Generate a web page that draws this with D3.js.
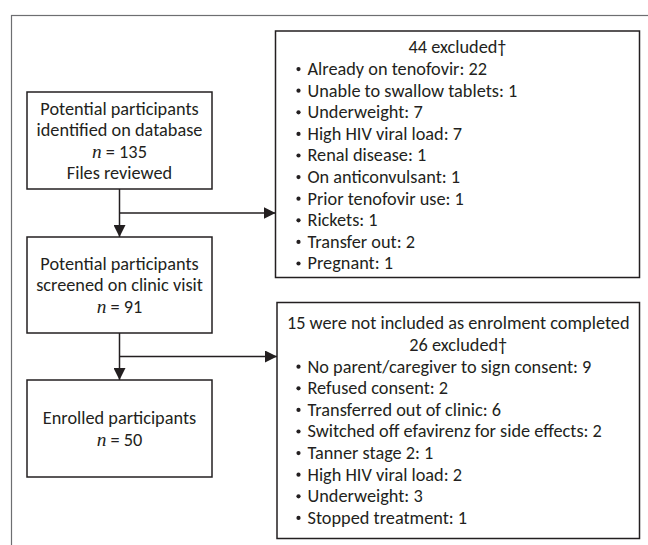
<!DOCTYPE html>
<html>
<head>
<meta charset="utf-8">
<script src="https://cdn.jsdelivr.net/npm/d3@7"></script>
<style>
  body { margin: 0; background: #fff; }
  text { font-family: Carlito, Lato, sans-serif; fill: #231f20; }
</style>
</head>
<body>
<div id="viz"></div>
<script>
const width = 648;
const height = 545;
const lineH = 21.6; // space between text lines
const fontSize = 18.3;
const ink = '#231f20';

// Data: the main flow and the exclusion lists
const flowLabels = [
  ['Potential participants', 'identified on database', 'n|135', 'Files reviewed'],
  ['Potential participants', 'screened on clinic visit', 'n|91'],
  ['Enrolled participants', 'n|50']
];
const exclTitles1 = ['44 excluded†'];
const exclItems1 = [
  'Already on tenofovir: 22',
  'Unable to swallow tablets: 1',
  'Underweight: 7',
  'High HIV viral load: 7',
  'Renal disease: 1',
  'On anticonvulsant: 1',
  'Prior tenofovir use: 1',
  'Rickets: 1',
  'Transfer out: 2',
  'Pregnant: 1'
];
const exclTitles2 = ['15 were not included as enrolment completed', '26 excluded†'];
const exclItems2 = [
  'No parent/caregiver to sign consent: 9',
  'Refused consent: 2',
  'Transferred out of clinic: 6',
  'Switched off efavirenz for side effects: 2',
  'Tanner stage 2: 1',
  'High HIV viral load: 2',
  'Underweight: 3',
  'Stopped treatment: 1'
];

// Layout of the boxes
const flowBoxes = [
  {x: 27, y: 92, w: 185, h: 97},
  {x: 27, y: 237, w: 185, h: 96},
  {x: 27, y: 380, w: 185, h: 97}
];
const sideBoxes = [
  {x: 275.5, y: 31, w: 364, h: 246.5, titles: exclTitles1, items: exclItems1, top: 47},
  {x: 277, y: 302.5, w: 362.5, h: 236, titles: exclTitles2, items: exclItems2, top: 323}
];

const svg = d3.select('#viz')
  .append('svg')
    .attr('width', width)
    .attr('height', height);

svg.append('defs').append('marker')
    .attr('id', 'head')
    .attr('viewBox', '0 0 12 12')
    .attr('refX', 12)
    .attr('refY', 6)
    .attr('markerWidth', 12)
    .attr('markerHeight', 12)
    .attr('markerUnits', 'userSpaceOnUse')
    .attr('orient', 'auto')
  .append('path')
    .attr('d', 'M0,0L12,6L0,12Z')
    .attr('fill', ink);

// outer frame (runs off the right and bottom edges)
svg.append('rect')
  .attr('x', 11.5).attr('y', 15.5)
  .attr('width', 660).attr('height', 560)
  .attr('fill', 'none')
  .attr('stroke', '#6d6e71')
  .attr('stroke-width', 1.2);

// connectors
const cx = flowBoxes[0].x + flowBoxes[0].w / 2;
const links = [
  {from: flowBoxes[0], to: flowBoxes[1], side: sideBoxes[0], jy: 213},
  {from: flowBoxes[1], to: flowBoxes[2], side: sideBoxes[1], jy: 356.5}
];
links.forEach(l => {
  svg.append('line')
    .attr('x1', cx).attr('y1', l.from.y + l.from.h)
    .attr('x2', cx).attr('y2', l.to.y)
    .attr('stroke', ink).attr('stroke-width', 1.5)
    .attr('marker-end', 'url(#head)');
  svg.append('line')
    .attr('x1', cx).attr('y1', l.jy)
    .attr('x2', l.side.x).attr('y2', l.jy)
    .attr('stroke', ink).attr('stroke-width', 1.5)
    .attr('marker-end', 'url(#head)');
});

// flow boxes
const fb = svg.selectAll('g.flow').data(flowBoxes).join('g').attr('class', 'flow');
fb.append('rect')
  .attr('x', d => d.x).attr('y', d => d.y)
  .attr('width', d => d.w).attr('height', d => d.h)
  .attr('fill', '#fff').attr('stroke', ink).attr('stroke-width', 1.5);
fb.each(function(d, i) {
  const lines = flowLabels[i];
  const y0 = d.y + d.h / 2 - (lines.length - 1) * lineH / 2;
  const t = d3.select(this).selectAll('text').data(lines).join('text')
    .attr('x', d.x + d.w / 2)
    .attr('y', (s, j) => y0 + j * lineH)
    .attr('dy', '0.35em')
    .attr('text-anchor', 'middle')
    .attr('font-size', fontSize);
  t.each(function(s) {
    const el = d3.select(this);
    if (s.startsWith('n|')) {
      el.append('tspan').text('n')
        .style('font-family', '"Liberation Serif", serif')
        .style('font-style', 'italic')
        .attr('font-size', fontSize + 1);
      el.append('tspan').text(' = ' + s.slice(2));
    } else {
      el.text(s);
    }
  });
});

// exclusion boxes
sideBoxes.forEach(b => {
  const g = svg.append('g');
  g.append('rect')
    .attr('x', b.x).attr('y', b.y)
    .attr('width', b.w).attr('height', b.h)
    .attr('fill', '#fff').attr('stroke', ink).attr('stroke-width', 1.5);
  g.selectAll('text.title').data(b.titles).join('text')
    .attr('class', 'title')
    .attr('x', b.x + b.w / 2)
    .attr('y', (s, j) => b.top + j * lineH)
    .attr('dy', '0.35em')
    .attr('text-anchor', 'middle')
    .attr('font-size', fontSize)
    .text(s => s);
  const y0 = b.top + b.titles.length * lineH;
  g.selectAll('circle').data(b.items).join('circle')
    .attr('cx', 298.5)
    .attr('cy', (s, j) => y0 + j * lineH + 0.5)
    .attr('r', 2.1)
    .attr('fill', ink);
  g.selectAll('text.item').data(b.items).join('text')
    .attr('class', 'item')
    .attr('x', 307.5)
    .attr('y', (s, j) => y0 + j * lineH)
    .attr('dy', '0.35em')
    .attr('font-size', fontSize)
    .text(s => s);
});
</script>
</body>
</html>
